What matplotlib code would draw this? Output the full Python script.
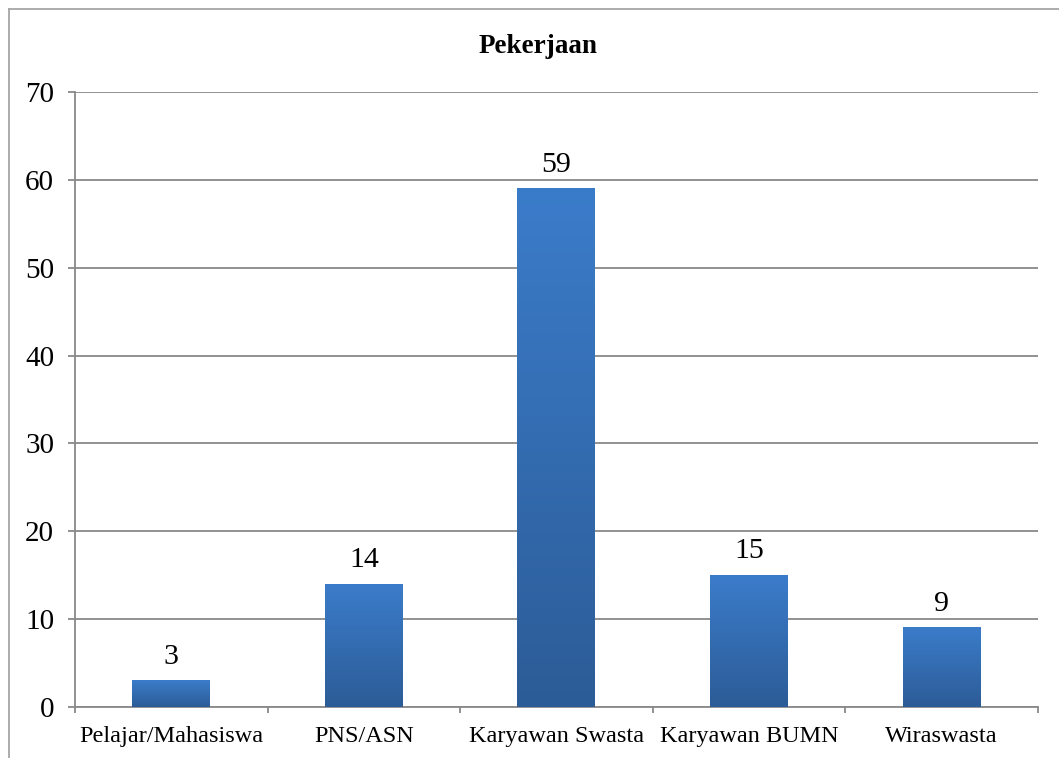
import numpy as np
import matplotlib.pyplot as plt
from matplotlib.colors import LinearSegmentedColormap
from matplotlib.lines import Line2D

categories = ["Pelajar/Mahasiswa", "PNS/ASN", "Karyawan Swasta", "Karyawan BUMN", "Wiraswasta"]
values = [3, 14, 59, 15, 9]
y_ticks = [0, 10, 20, 30, 40, 50, 60, 70]
title = "Pekerjaan"

plt.rcParams['font.family'] = ['Liberation Serif', 'DejaVu Serif']

fig = plt.figure(figsize=(10.59, 7.58), dpi=100)
ax = fig.add_axes([0.0708, 0.0673, 0.9092, 0.8113])

grid_col = "#898989"
bar_w = 0.405
# gradient: light blue at top, darker at bottom
cmap = LinearSegmentedColormap.from_list("bar", ["#2c5c97", "#3b7cca"])
grad = np.linspace(0, 1, 256).reshape(-1, 1)

x = np.arange(len(categories))
for xi, v in zip(x, values):
    ax.imshow(grad, cmap=cmap, aspect="auto", origin="lower",
              extent=(xi - bar_w / 2, xi + bar_w / 2, 0, v), zorder=3)
    ax.text(xi, v + 1.25, str(v), ha="center", va="bottom", fontsize=21.5, zorder=4)

ax.set_xlim(-0.5, len(categories) - 0.5)
ax.set_ylim(0, 70)
ax.set_yticks(y_ticks)
ax.set_yticklabels([str(t) for t in y_ticks], fontsize=21)
ax.yaxis.grid(True, color=grid_col, linewidth=1.3)
ax.set_axisbelow(True)

ax.set_xticks(x)
ax.set_xticklabels(categories, fontsize=17.5)
ax.set_xticks(np.arange(-0.5, len(categories)), minor=True)
ax.tick_params(axis="x", which="major", length=0, pad=14)
ax.tick_params(axis="x", which="minor", length=4.5, color=grid_col, width=1.3)
ax.tick_params(axis="y", length=5, color=grid_col, width=1.3, pad=10)

for side in ["top", "right"]:
    ax.spines[side].set_visible(False)
for side in ["left", "bottom"]:
    ax.spines[side].set_color(grid_col)
    ax.spines[side].set_linewidth(1.3)

fig.text(0.508, 0.938, title, ha="center", va="center", fontsize=19.5, fontweight="bold")

# outer chart frame (partially cut off at right and bottom)
fx = 8.5 / 1059
fy = 1 - 8.5 / 758
fig.add_artist(Line2D([fx, fx], [0, fy], transform=fig.transFigure, color="#a6a6a6", linewidth=1.3))
fig.add_artist(Line2D([fx, 1], [fy, fy], transform=fig.transFigure, color="#a6a6a6", linewidth=1.3))

fig.savefig("out.png", dpi=100)
